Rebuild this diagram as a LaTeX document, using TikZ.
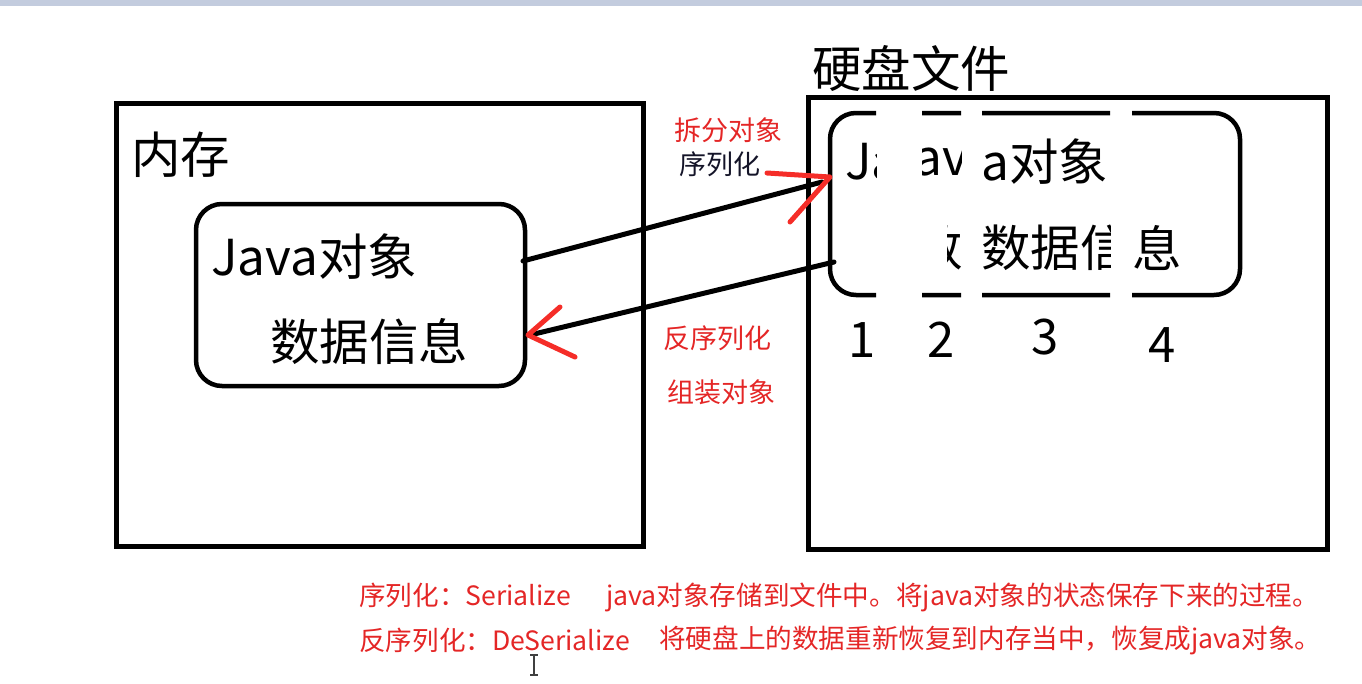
\documentclass[tikz,border=0pt]{standalone}
\usepackage{fontspec}
\setmainfont{Noto Sans CJK SC}
\usetikzlibrary{calc}
\definecolor{bandc}{RGB}{195,204,222}
\definecolor{redtxt}{RGB}{228,38,38}
\definecolor{redarr}{RGB}{245,45,40}
\definecolor{navy}{RGB}{20,20,40}
\tikzset{
  bigbox/.style={draw, line width=5pt, inner sep=0pt},
  objbox/.style={draw, line width=4.5pt, rounded corners=26pt, inner sep=0pt},
  bigtxt/.style={inner sep=0pt, anchor=west, font=\fontsize{49.5}{56}\selectfont},
  numtxt/.style={inner sep=0pt, font=\fontsize{49}{56}\selectfont},
  redlbl/.style={inner sep=0pt, anchor=west, text=redtxt, font=\fontsize{27}{32}\selectfont},
  notetxt/.style={inner sep=0pt, anchor=west, text=redtxt, font=\fontsize{26.6}{32}\selectfont},
  conn/.style={line width=5pt, line cap=round},
  chev/.style={draw=redarr, line width=5pt, line cap=round, line join=round}
}
\begin{document}
\begin{tikzpicture}[x=1pt,y=-1pt]
\useasboundingbox (0,0) rectangle (1362,683);
\fill[bandc] (0,0) rectangle (1362,6);

% memory box
\node[bigbox, minimum width=527pt, minimum height=443pt] (mem) at (379.5,324.5) {};
\node[bigtxt] (memlbl) at (131,155) {内存};
\node[objbox, minimum width=329pt, minimum height=182pt] (obj) at (360.5,295) {};
\node[bigtxt] (objl1) at (211,257) {Java对象};
\node[bigtxt] (objl2) at (270,342) {数据信息};

% disk box
\node[bigbox, minimum width=519pt, minimum height=452pt] (disk) at (1067.5,323) {};
\node[bigtxt] (disklbl) at (812,68) {硬盘文件};

% dashed (split) object box
\begin{scope}
  \clip (820,100) rectangle (876,310) (922,100) rectangle (961,310)
        (982,100) rectangle (1110,310) (1132,100) rectangle (1250,310);
  \node[objbox, minimum width=410pt, minimum height=182pt] (fobj) at (1035,204) {};
\end{scope}
\begin{scope}
  \clip (832,120) rectangle (876,290);
  \node[bigtxt] (f1) at (845,162) {\makebox[30pt][l]{Ja}};
\end{scope}
\begin{scope}
  \clip (922,120) rectangle (961,290);
  \node[bigtxt] (f2) at (914,162) {\makebox[46pt][l]{av}};
\end{scope}
\begin{scope}
  \clip (947,200) rectangle (961,290);
  \node[bigtxt] (f3) at (913,248) {数};
\end{scope}
\begin{scope}
  \clip (982,120) rectangle (1110,290);
  \node[bigtxt] (f4) at (981,162) {a对象};
  \node[bigtxt] (f5) at (981,248) {\makebox[128pt][l]{数据信}};
\end{scope}
\begin{scope}
  \clip (1132,120) rectangle (1236,290);
  \node[bigtxt] (f6) at (1132,248) {息};
\end{scope}

% numbers
\node[numtxt] (n1) at (862,340) {1};
\node[numtxt] (n2) at (941,340) {2};
\node[numtxt] (n3) at (1045,337) {3};
\node[numtxt] (n4) at (1162,345) {4};

% arrow labels
\node[redlbl] (l1) at (674,130) {拆分对象};
\node[redlbl, text=navy] (l2) at (679,164) {序列化};
\node[redlbl] (l3) at (663,338) {反序列化};
\node[redlbl] (l4) at (667,392) {组装对象};

% connectors
\coordinate (s1) at (523,261);
\coordinate (t1) at (822,182);
\coordinate (s2) at (834,262);
\coordinate (t2) at (530,335);
\draw[conn] (s1) -- (t1);
\draw[conn] (s2) -- (t2);
\coordinate (h1) at (830,177);
\coordinate (h2) at (528,335);
\draw[chev] ($(h1)+(-63,-4)$) -- (h1) -- ($(h1)+(-40,45)$);
\draw[chev] ($(h2)+(32,-28)$) -- (h2) -- ($(h2)+(47,22)$);

% notes
\node[notetxt] (d1a) at (359,595) {序列化：Serialize};
\node[notetxt] (d1b) at (606,597) {java对象存储到文件中。将java对象的状态保存下来的过程。};
\node[notetxt] (d2a) at (359,640) {反序列化：DeSerialize};
\node[notetxt] (d2b) at (659,640) {将硬盘上的数据重新恢复到内存当中，恢复成java对象。};

% text cursor
\coordinate (cur) at (534,665);
\draw[line width=1.6pt, black!75] ($(cur)+(0,-10)$) -- ($(cur)+(0,10)$)
  ($(cur)+(-4,-10)$) -- ($(cur)+(4,-10)$) ($(cur)+(-4,10)$) -- ($(cur)+(4,10)$);
\end{tikzpicture}
\end{document}
